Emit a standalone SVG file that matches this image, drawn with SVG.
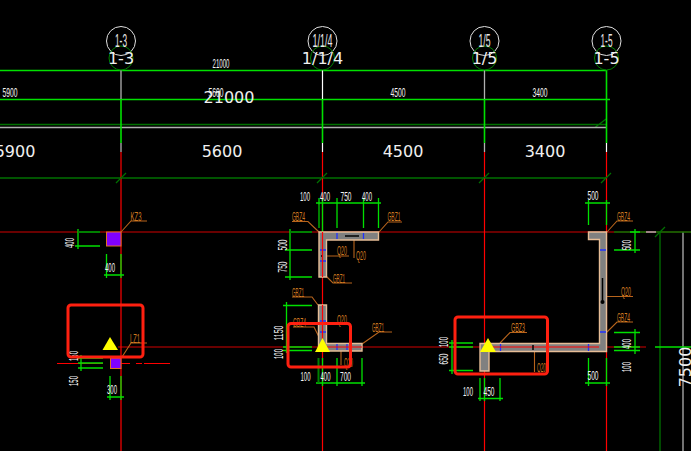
<svg xmlns="http://www.w3.org/2000/svg" width="691" height="451" viewBox="0 0 691 451">
<style>
text{font-family:"Liberation Sans",Arial,sans-serif;text-anchor:middle}
.big{font-family:"DejaVu Sans",sans-serif;font-size:16px;fill:#f0f0f0}
.dim{font-size:13.500px;fill:#f4f4f4}
.lab{font-size:13px;fill:#d07a20}
.ax{font-size:18px;fill:#e8e8e8}
line,path,polyline{fill:none}
.g{stroke:#00e000;stroke-width:1.300}
.g2{stroke:#00e000;stroke-width:1.600}
.dg{stroke:#007000;stroke-width:1.300}
.tk{stroke:#008000;stroke-width:2}
.w{stroke:#b0b0b0;stroke-width:1.300}
.r{stroke:#ff0000;stroke-width:1.200}
.dr{stroke:#8c0000;stroke-width:1.300}
.o{stroke:#b8641c;stroke-width:1.100}
.b{stroke:#2030ff;stroke-width:1.300}
.k{stroke:#000;stroke-width:1.500}
.wall{fill:#808080;stroke:#e6bd96;stroke-width:1.400}
.col{fill:#8000ff;stroke:#e07020;stroke-width:1}
.tri{fill:#ffff00}
.box{fill:none;stroke:#ff2010;stroke-width:3}
</style>
<rect width="691" height="451" fill="#000"/>
<g id="connectors">
<path class="dr" d="M0 232H691M118 347H646"/>
<path class="r" d="M57 363.500H103M121 363.500H130M136 363.500H142M144 363.500H170"/>
<path class="dg" d="M0 124.500H606M0 178H606M660 232V451M595 127.500L606 119"/>
<path class="w" d="M0 127.500H606M683 232V451M646 232H656"/>
<path class="g2" d="M0 70.500H606M0 99.500H610"/>
<path class="w" d="M121 70V99M484.500 70V99"/>
<path d="M322.500 70V99" stroke="#fff" stroke-width="1.200" fill="none"/>
<path class="g2" d="M606.500 70V143M121 99V143M322.500 99V143M484.500 99V143"/>
<path class="w" d="M121 143V152M484.500 143V152"/>
<path d="M322.500 143V152M606.500 143V152" stroke="#fff" stroke-width="1.200" fill="none"/>
<path class="r" d="M121 152V451M322.500 152V451M484.500 152V451M606.500 152V451"/>
<path class="dg" d="M116 183L126 173M317 183L327 173M479 183L489 173M601 183L611 173M655 237L665 227"/>
<path class="dg" d="M614 232H646M656 232H691"/>
<path class="g" d="M655 347H691"/>
<!-- dimensions -->
<path class="g" d="M316 203H381M337 198V228M363.500 198V228M378.500 198V228"/>
<path class="tk" d="M319 205V228"/>
<path class="g" d="M319 198V205M322.500 198V232"/>
<path class="g" d="M290 229V280M285 250H312M285 277H312"/>
<path class="tk" d="M290 232H312"/>
<path class="g" d="M316 383H365M322.500 358V386M337 358V386M362 358V386"/>
<path class="tk" d="M318.500 358V383"/>
<path class="g" d="M286.500 302V353M283 305.500H312M283 347H312M283 350.500H312"/>
<path class="g" d="M452 340V374M449 343H473M449 347H473M449 370.500H473"/>
<path class="g" d="M478 398.500H503M480 378V401M484.500 378V401M500 378V401"/>
<path class="g" d="M585 203H610M588.500 200V225M606.500 200V225"/>
<path class="g" d="M635 229V253M614 250H640M630 232H640"/>
<path class="g" d="M635 329V354M614 332.500H640M614 347H640M614 350.500H640"/>
<path class="g" d="M585 383H610M588.500 358V386M606.500 358V386"/>
<path class="g" d="M78 229V249M75 246H100"/>
<path class="tk" d="M78 232H100"/>
<path class="g" d="M104 275H124M106.500 254V278M121 254V278"/>
<path class="g" d="M81 355V371M78 358H103M78 363H103M78 368H103"/>
<path class="g" d="M107 397H124M110 376V400M121 376V400"/>
<!-- leaders -->
<path class="o" d="M292 221.500H308L319 232M402 222H388L379 232M322 256H349M354 236V258M352 283H333L326 276"/>
<path class="o" d="M292 297H312L318 305M293 327H314L319 337M392 332H379L362 344M341 348V365"/>
<path class="o" d="M527 332.500H510L500 343M534.500 348V372"/>
<path class="o" d="M633 221H617L607 232M604 296.500H633M633 322H617L607 332"/>
<path class="o" d="M147 221H131L121 232M147 343H131L122 357"/>
</g>
<g id="axis-1-3"><circle cx="121" cy="41" r="14.500" fill="none" stroke="#e0e0e0"/><circle cx="121" cy="58" r="12" fill="none" stroke="#008000"/><text class="ax" x="121" y="47" textLength="12" lengthAdjust="spacingAndGlyphs">1-3</text><text class="big" x="121" y="64">1-3</text></g>
<g id="axis-1-1-4"><circle cx="322.500" cy="41" r="14.500" fill="none" stroke="#e0e0e0"/><circle cx="322.500" cy="58" r="12" fill="none" stroke="#008000"/><text class="ax" x="322.500" y="47" textLength="20" lengthAdjust="spacingAndGlyphs">1/1/4</text><text class="big" x="322.500" y="64">1/1/4</text></g>
<g id="axis-1-5a"><circle cx="484.500" cy="41" r="14.500" fill="none" stroke="#e0e0e0"/><circle cx="484.500" cy="58" r="12" fill="none" stroke="#008000"/><text class="ax" x="484.500" y="47" textLength="12" lengthAdjust="spacingAndGlyphs">1/5</text><text class="big" x="484.500" y="64">1/5</text></g>
<g id="axis-1-5b"><circle cx="606.500" cy="41" r="14.500" fill="none" stroke="#e0e0e0"/><circle cx="606.500" cy="58" r="12" fill="none" stroke="#008000"/><text class="ax" x="606.500" y="47" textLength="12" lengthAdjust="spacingAndGlyphs">1-5</text><text class="big" x="606.500" y="64">1-5</text></g>
<g id="dim-labels">
<text class="dim" x="221" y="67.500" textLength="17" lengthAdjust="spacingAndGlyphs">21000</text>
<text class="dim" x="10" y="96.500" textLength="15" lengthAdjust="spacingAndGlyphs">5900</text>
<text class="dim" x="216" y="96.500" textLength="15" lengthAdjust="spacingAndGlyphs">5600</text>
<text class="dim" x="398" y="96.500" textLength="15" lengthAdjust="spacingAndGlyphs">4500</text>
<text class="dim" x="540" y="96.500" textLength="15" lengthAdjust="spacingAndGlyphs">3400</text>
<text class="big" x="229" y="103">21000</text>
<text class="big" x="15" y="157">5900</text>
<text class="big" x="222" y="157">5600</text>
<text class="big" x="403" y="157">4500</text>
<text class="big" x="545" y="157">3400</text>
<text class="dim" x="305" y="200.500" textLength="10" lengthAdjust="spacingAndGlyphs">100</text>
<text class="dim" x="325" y="200.500" textLength="10" lengthAdjust="spacingAndGlyphs">400</text>
<text class="dim" x="346" y="200.500" textLength="11" lengthAdjust="spacingAndGlyphs">750</text>
<text class="dim" x="367" y="200.500" textLength="10" lengthAdjust="spacingAndGlyphs">400</text>
<text class="dim" transform="translate(287 245) rotate(-90)" textLength="11" lengthAdjust="spacingAndGlyphs">500</text>
<text class="dim" transform="translate(287 267) rotate(-90)" textLength="11" lengthAdjust="spacingAndGlyphs">750</text>
<text class="dim" x="305.500" y="380.500" textLength="10" lengthAdjust="spacingAndGlyphs">100</text>
<text class="dim" x="325.500" y="380.500" textLength="10" lengthAdjust="spacingAndGlyphs">400</text>
<text class="dim" x="345.500" y="380.500" textLength="11" lengthAdjust="spacingAndGlyphs">700</text>
<text class="dim" transform="translate(283 333) rotate(-90)" textLength="15" lengthAdjust="spacingAndGlyphs">1150</text>
<text class="dim" transform="translate(283 354) rotate(-90)" textLength="10" lengthAdjust="spacingAndGlyphs">100</text>
<text class="dim" transform="translate(448 342) rotate(-90)" textLength="10" lengthAdjust="spacingAndGlyphs">100</text>
<text class="dim" transform="translate(448 359) rotate(-90)" textLength="11" lengthAdjust="spacingAndGlyphs">650</text>
<text class="dim" x="468" y="396" textLength="10" lengthAdjust="spacingAndGlyphs">100</text>
<text class="dim" x="489" y="396" textLength="11" lengthAdjust="spacingAndGlyphs">450</text>
<text class="dim" x="593" y="200" textLength="11" lengthAdjust="spacingAndGlyphs">500</text>
<text class="dim" transform="translate(631 245) rotate(-90)" textLength="10" lengthAdjust="spacingAndGlyphs">500</text>
<text class="dim" transform="translate(631 344) rotate(-90)" textLength="10" lengthAdjust="spacingAndGlyphs">400</text>
<text class="dim" transform="translate(631 367) rotate(-90)" textLength="10" lengthAdjust="spacingAndGlyphs">100</text>
<text class="dim" x="593" y="380" textLength="11" lengthAdjust="spacingAndGlyphs">500</text>
<text class="big" transform="translate(691 367) rotate(-90)">7500</text>
<text class="dim" transform="translate(74 243) rotate(-90)" textLength="10" lengthAdjust="spacingAndGlyphs">400</text>
<text class="dim" x="110" y="272" textLength="10" lengthAdjust="spacingAndGlyphs">400</text>
<text class="dim" transform="translate(78 356) rotate(-90)" textLength="10" lengthAdjust="spacingAndGlyphs">150</text>
<text class="dim" transform="translate(78 381) rotate(-90)" textLength="10" lengthAdjust="spacingAndGlyphs">150</text>
<text class="dim" x="112" y="394" textLength="10" lengthAdjust="spacingAndGlyphs">300</text>
</g>
<g id="col-kz3"><rect class="col" x="106.500" y="232" width="14.500" height="14"/><text class="lab" x="136" y="220.500" textLength="11" lengthAdjust="spacingAndGlyphs">KZ3</text></g>
<g id="col-lz1"><rect class="col" x="110.500" y="358" width="10.500" height="10.500"/><text class="lab" x="135" y="342.500" textLength="10" lengthAdjust="spacingAndGlyphs">LZ1</text></g>
<g id="wall-a"><path class="wall" d="M319 232H378.500V240H326.500V277H319Z"/><path class="b" d="M337 233V239M363.500 233V239M320 250H326M320 261H326"/><path class="k" d="M345 236H359M321 256H322"/><path d="M345 233.500L341 236L345 238.500Z" fill="#000"/><path class="r" d="M322.500 232V277"/>
<text class="lab" x="298.500" y="220.500" textLength="13" lengthAdjust="spacingAndGlyphs">GBZ4</text><text class="lab" x="394" y="220.500" textLength="13" lengthAdjust="spacingAndGlyphs">GBZ1</text><text class="lab" x="342" y="254.500" textLength="10" lengthAdjust="spacingAndGlyphs">Q20</text><text class="lab" x="361" y="259.500" textLength="10" lengthAdjust="spacingAndGlyphs">Q20</text><text class="lab" x="339" y="282.500" textLength="12" lengthAdjust="spacingAndGlyphs">GBZ1</text></g>
<g id="wall-b"><path class="wall" d="M318.500 305H326.500V343.500H362V351H318.500Z"/><path class="b" d="M320 321H326M320 332H326M337 344V350M347 344V350"/><path class="r" d="M322.500 305V351M326 347H362"/>
<text class="lab" x="298" y="296.500" textLength="12" lengthAdjust="spacingAndGlyphs">GBZ1</text><text class="lab" x="342" y="323.500" textLength="10" lengthAdjust="spacingAndGlyphs">Q20</text><text class="lab" x="299.500" y="326.500" textLength="13" lengthAdjust="spacingAndGlyphs">GBZ4</text><text class="lab" x="378" y="331.500" textLength="12" lengthAdjust="spacingAndGlyphs">GBZ1</text><text class="lab" x="348.500" y="366.500" textLength="9" lengthAdjust="spacingAndGlyphs">Q20</text></g>
<g id="wall-c"><path class="wall" d="M480 343.500H599.500V239.500H588.500V232H606.500V351.500H489V371H480Z"/><path class="b" d="M500.500 344V351M588.500 344V351M600 250H606M600 332H606"/><path class="r" d="M489 347H599"/><path class="k" d="M602.500 278V302M533 345V350"/><circle cx="602.500" cy="302" r="2" fill="#000"/>
<text class="lab" x="518" y="332" textLength="14" lengthAdjust="spacingAndGlyphs">GBZ3</text><text class="lab" x="541.500" y="371.500" textLength="9" lengthAdjust="spacingAndGlyphs">Q20</text><text class="lab" x="623.500" y="220.500" textLength="13" lengthAdjust="spacingAndGlyphs">GBZ4</text><text class="lab" x="626" y="295.500" textLength="10" lengthAdjust="spacingAndGlyphs">Q20</text><text class="lab" x="623.500" y="321.500" textLength="13" lengthAdjust="spacingAndGlyphs">GBZ4</text></g>
<g id="marker-1"><rect class="box" x="68" y="305" width="75" height="52" rx="3"/><path class="tri" d="M110 337L102.500 350H118Z"/></g>
<g id="marker-2"><rect class="box" x="288" y="323.500" width="62.500" height="43.500" rx="3"/><path class="tri" d="M322.500 338L315 352H330Z"/></g>
<g id="marker-3"><rect class="box" x="455" y="317" width="92.500" height="57" rx="3"/><path class="tri" d="M488 338L480 352H496Z"/></g>
</svg>
